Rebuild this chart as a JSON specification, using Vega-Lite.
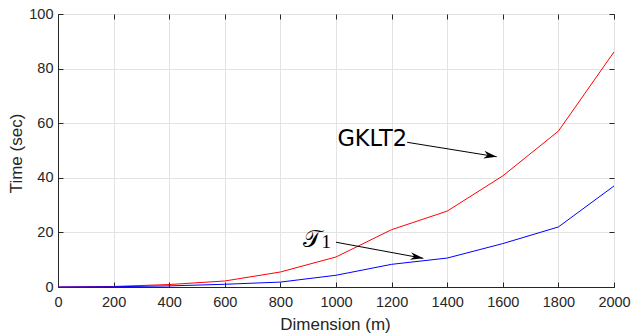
{
  "$schema": "https://vega.github.io/schema/vega-lite/v6.json",
  "width": 556,
  "height": 273,
  "autosize": "none",
  "padding": {"left": 58, "top": 14, "right": 18, "bottom": 46},
  "background": "white",
  "config": {
    "view": {"stroke": "#262626", "strokeWidth": 1},
    "axis": {
      "domainColor": "#262626",
      "tickColor": "#262626",
      "labelColor": "#262626",
      "titleColor": "#262626",
      "gridColor": "#e3e3e3",
      "gridOpacity": 1,
      "labelFont": "Liberation Sans",
      "labelFontSize": 14.5,
      "titleFont": "Liberation Sans",
      "titleFontSize": 17,
      "titleFontWeight": "normal",
      "tickSize": -5,
      "labelPadding": 10
    }
  },
  "resolve": {"axis": {"x": "independent", "y": "independent"}},
  "datasets": {
    "series": [
      {"dim": 0, "time": 0, "method": "GKLT2"},
      {"dim": 200, "time": 0.2, "method": "GKLT2"},
      {"dim": 400, "time": 0.9, "method": "GKLT2"},
      {"dim": 600, "time": 2.2, "method": "GKLT2"},
      {"dim": 800, "time": 5.5, "method": "GKLT2"},
      {"dim": 1000, "time": 11.0, "method": "GKLT2"},
      {"dim": 1200, "time": 21.0, "method": "GKLT2"},
      {"dim": 1400, "time": 27.8, "method": "GKLT2"},
      {"dim": 1600, "time": 40.7, "method": "GKLT2"},
      {"dim": 1800, "time": 57.1, "method": "GKLT2"},
      {"dim": 2000, "time": 86.1, "method": "GKLT2"},
      {"dim": 0, "time": 0, "method": "T1"},
      {"dim": 200, "time": 0.1, "method": "T1"},
      {"dim": 400, "time": 0.4, "method": "T1"},
      {"dim": 600, "time": 1.0, "method": "T1"},
      {"dim": 800, "time": 1.8, "method": "T1"},
      {"dim": 1000, "time": 4.3, "method": "T1"},
      {"dim": 1200, "time": 8.3, "method": "T1"},
      {"dim": 1400, "time": 10.6, "method": "T1"},
      {"dim": 1600, "time": 15.9, "method": "T1"},
      {"dim": 1800, "time": 22.0, "method": "T1"},
      {"dim": 2000, "time": 37.0, "method": "T1"}
    ],
    "arrows": [
      {"label": "GKLT2", "x": 1256, "y": 53.0, "x2": 1578, "y2": 47.7},
      {"label": "T1", "x": 1000, "y": 16.4, "x2": 1314, "y2": 10.5}
    ]
  },
  "layer": [
    {
      "data": {"name": "series"},
      "mark": {"type": "line", "strokeWidth": 1},
      "encoding": {
        "x": {
          "field": "dim", "type": "quantitative",
          "scale": {"domain": [0, 2000], "nice": false},
          "axis": {"values": [0, 200, 400, 600, 800, 1000, 1200, 1400, 1600, 1800, 2000], "format": "d", "title": "Dimension (m)", "titleY": 37, "titleX": 277, "titleBaseline": "middle", "labelFlush": false, "labelPadding": 13}
        },
        "y": {
          "field": "time", "type": "quantitative",
          "scale": {"domain": [0, 100], "nice": false},
          "axis": {"values": [0, 20, 40, 60, 80, 100], "format": "d", "title": "Time (sec)", "titleX": -42, "titleY": 139, "titleBaseline": "middle", "titleAngle": -90}
        },
        "color": {
          "field": "method", "type": "nominal",
          "scale": {"domain": ["GKLT2", "T1"], "range": ["#ff0000", "#0000ff"]},
          "legend": null
        }
      }
    },
    {
      "data": {"name": "arrows"},
      "mark": {"type": "rule", "color": "black", "strokeWidth": 1},
      "encoding": {
        "x": {"field": "x", "type": "quantitative", "axis": {"orient": "top", "values": [0, 200, 400, 600, 800, 1000, 1200, 1400, 1600, 1800, 2000], "labels": false, "grid": false, "title": null, "domain": false}},
        "y": {"field": "y", "type": "quantitative", "axis": {"orient": "right", "values": [0, 20, 40, 60, 80, 100], "labels": false, "grid": false, "title": null, "domain": false}},
        "x2": {"field": "x2"},
        "y2": {"field": "y2"}
      }
    },
    {
      "data": {"name": "arrows"},
      "transform": [{"filter": "datum.label === 'GKLT2'"}],
      "mark": {"type": "point", "shape": "M0,0 L-1,-0.3 L-0.7,0 L-1,0.3 Z", "filled": true, "color": "black", "opacity": 1, "size": 676, "angle": 9.2, "strokeWidth": 0},
      "encoding": {
        "x": {"field": "x2", "type": "quantitative", "axis": null},
        "y": {"field": "y2", "type": "quantitative", "axis": null}
      }
    },
    {
      "data": {"name": "arrows"},
      "transform": [{"filter": "datum.label === 'T1'"}],
      "mark": {"type": "point", "shape": "M0,0 L-1,-0.3 L-0.7,0 L-1,0.3 Z", "filled": true, "color": "black", "opacity": 1, "size": 676, "angle": 10.4, "strokeWidth": 0},
      "encoding": {
        "x": {"field": "x2", "type": "quantitative", "axis": null},
        "y": {"field": "y2", "type": "quantitative", "axis": null}
      }
    },
    {
      "data": {"values": [{"text": "GKLT2", "x": 1005, "y": 51.5}]},
      "mark": {"type": "text", "font": "DejaVu Sans", "fontSize": 22.5, "align": "left", "baseline": "alphabetic", "color": "black"},
      "encoding": {
        "x": {"field": "x", "type": "quantitative", "axis": null},
        "y": {"field": "y", "type": "quantitative", "axis": null},
        "text": {"field": "text"}
      }
    },
    {
      "data": {"values": [{"text": "𝒯", "x": 882, "y": 14.8}]},
      "mark": {"type": "text", "font": "DejaVu Serif", "fontSize": 24, "align": "left", "baseline": "alphabetic", "color": "black"},
      "encoding": {
        "x": {"field": "x", "type": "quantitative", "axis": null},
        "y": {"field": "y", "type": "quantitative", "axis": null},
        "text": {"field": "text"}
      }
    },
    {
      "data": {"values": [{"text": "1", "x": 948, "y": 14.2}]},
      "mark": {"type": "text", "font": "Liberation Serif", "fontSize": 19, "align": "left", "baseline": "alphabetic", "color": "black"},
      "encoding": {
        "x": {"field": "x", "type": "quantitative", "axis": null},
        "y": {"field": "y", "type": "quantitative", "axis": null},
        "text": {"field": "text"}
      }
    }
  ]
}
